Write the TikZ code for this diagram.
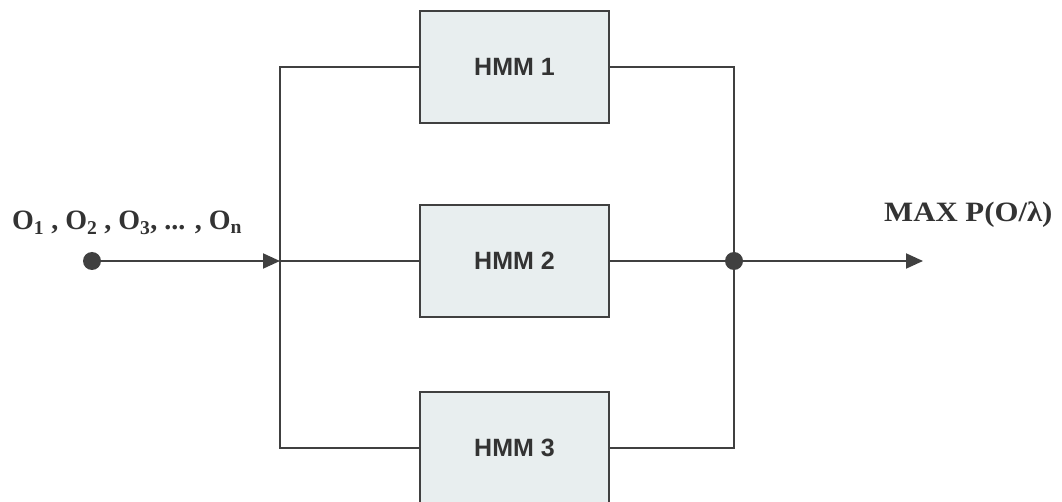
\documentclass[tikz,border=0pt]{standalone}
\usepackage{fontspec}
\setmainfont{Liberation Serif}
\newfontfamily\boxfont{Liberation Sans}
\usetikzlibrary{arrows.meta}
\definecolor{ln}{HTML}{404040}
\definecolor{boxfill}{HTML}{E8EEEF}
\definecolor{txt}{HTML}{333333}
\tikzset{
  hmm/.style={draw=ln, line width=2pt, fill=boxfill, minimum width=189pt, minimum height=112pt, inner sep=0pt, font=\boxfont\bfseries\fontsize{25}{29}\selectfont, text=txt},
  wire/.style={draw=ln, line width=2pt},
  arr/.style={wire, -{Triangle[length=17pt,width=15pt]}},
  dotnode/.style={circle, fill=ln, inner sep=0pt, minimum size=18pt},
  lbl/.style={font=\bfseries\fontsize{28}{32}\selectfont, text=txt, inner sep=0pt}
}
\begin{document}
\begin{tikzpicture}[x=1pt,y=1pt]
\useasboundingbox (0,0) rectangle (1062,501);
\node[hmm] (h1) at (514.5,434) {HMM 1};
\node[hmm] (h2) at (514.5,240) {HMM 2};
\node[hmm] (h3) at (514.5,53) {HMM 3};
\node[dotnode] (in) at (92,240) {};
\coordinate (jl) at (280,240);
\coordinate (jr) at (734,240);
\coordinate (out) at (923,240);
\draw[wire] (h1.west) -| (jl) |- (h3.west);
\draw[wire] (jl) -- (h2.west);
\draw[wire] (h1.east) -| (jr) |- (h3.east);
\draw[wire] (h2.east) -- (jr);
\draw[arr] (in) -- (jl);
\draw[arr] (jr) -- (out);
\node[dotnode] (jrd) at (jr) {};
\node[lbl, anchor=base west] (inlbl) at (12,271) {O\textsubscript{1} , O\textsubscript{2} , O\textsubscript{3}, ... , O\textsubscript{n}};
\node[lbl, anchor=base west, xscale=1.1] (outlbl) at (884,279) {MAX P(O/λ)};
\end{tikzpicture}
\end{document}
